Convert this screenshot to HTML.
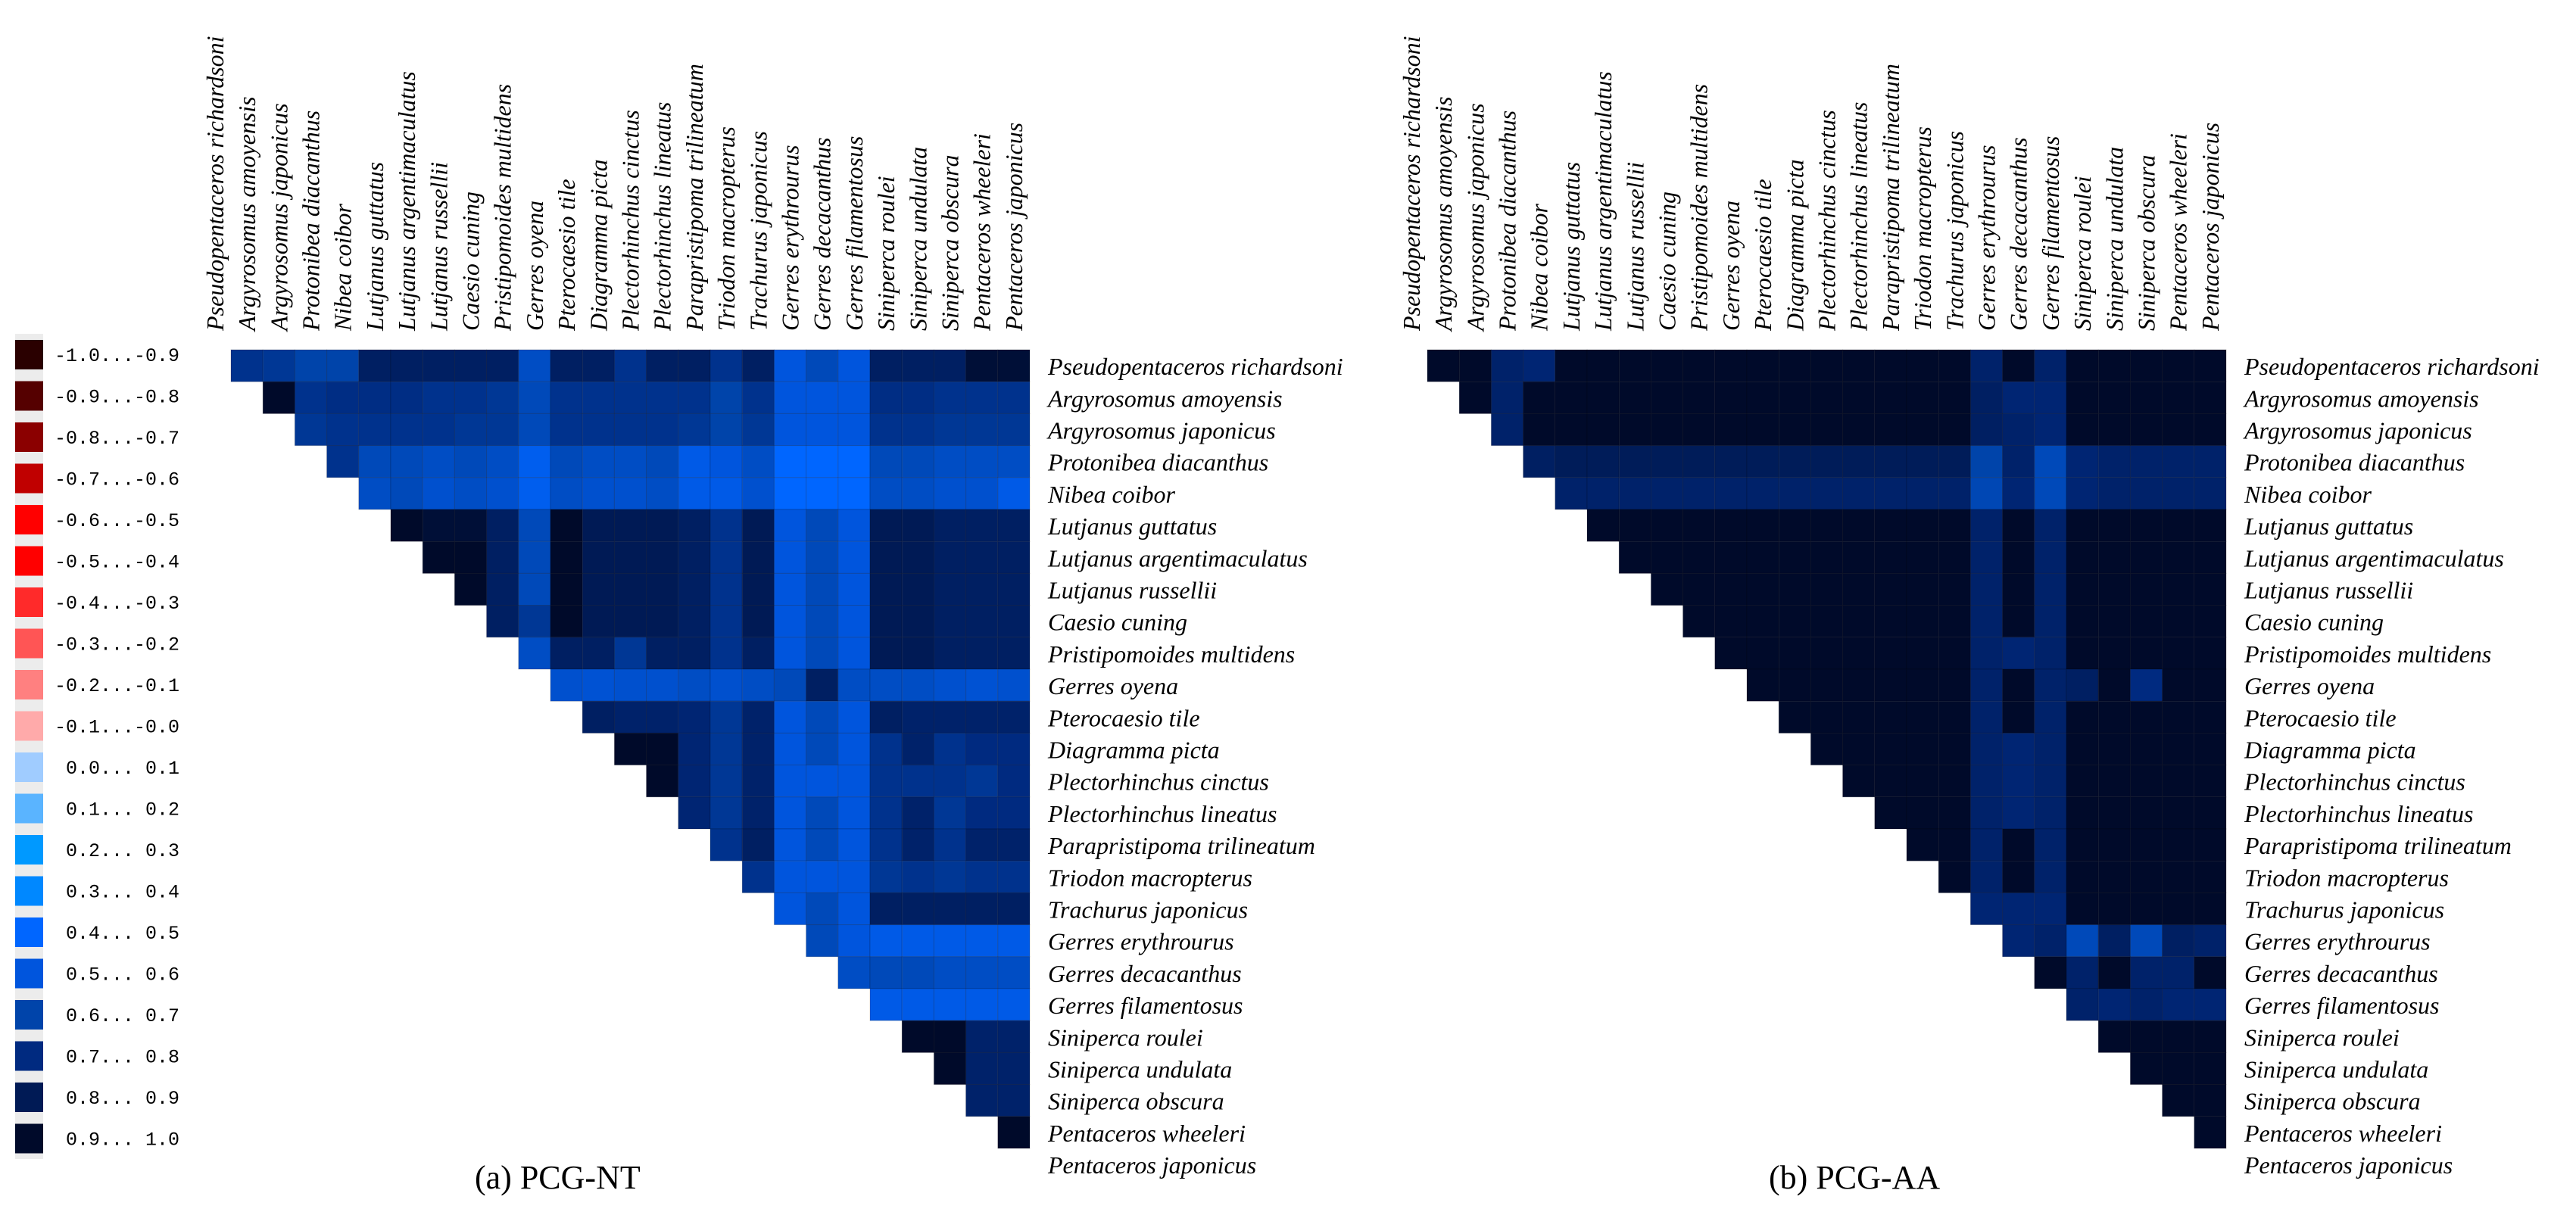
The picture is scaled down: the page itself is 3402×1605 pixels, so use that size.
<!DOCTYPE html>
<html><head><meta charset="utf-8"><style>
html,body{margin:0;padding:0;background:#fff;}
svg{display:block;}
</style></head><body>
<svg id="fig" xmlns="http://www.w3.org/2000/svg" width="3402" height="1605" viewBox="0 0 3402 1605"></svg>
<script>
const species = ["Pseudopentaceros richardsoni","Argyrosomus amoyensis","Argyrosomus japonicus","Protonibea diacanthus","Nibea coibor","Lutjanus guttatus","Lutjanus argentimaculatus","Lutjanus russellii","Caesio cuning","Pristipomoides multidens","Gerres oyena","Pterocaesio tile","Diagramma picta","Plectorhinchus cinctus","Plectorhinchus lineatus","Parapristipoma trilineatum","Triodon macropterus","Trachurus japonicus","Gerres erythrourus","Gerres decacanthus","Gerres filamentosus","Siniperca roulei","Siniperca undulata","Siniperca obscura","Pentaceros wheeleri","Pentaceros japonicus"];
const legendLabels = ["-1.0...-0.9","-0.9...-0.8","-0.8...-0.7","-0.7...-0.6","-0.6...-0.5","-0.5...-0.4","-0.4...-0.3","-0.3...-0.2","-0.2...-0.1","-0.1...-0.0"," 0.0... 0.1"," 0.1... 0.2"," 0.2... 0.3"," 0.3... 0.4"," 0.4... 0.5"," 0.5... 0.6"," 0.6... 0.7"," 0.7... 0.8"," 0.8... 0.9"," 0.9... 1.0"];
const legendColors = ["#2a0000","#550000","#8b0000","#c00000","#ff0000","#ff0000","#ff2a2a","#ff5555","#ff8080","#ffaaaa","#a0ccff","#5ab4ff","#0099ff","#0088ff","#0066ff","#0055dd","#0044aa","#002a80","#001a55","#000a2a"];
// upper-triangle rows: row i holds values for columns i+1..25
const ntValues = [
[0.72,0.7,0.65,0.65,0.82,0.82,0.82,0.82,0.82,0.6,0.82,0.82,0.72,0.82,0.82,0.72,0.82,0.55,0.62,0.55,0.82,0.82,0.82,0.92,0.92],
[0.95,0.72,0.74,0.74,0.74,0.72,0.72,0.7,0.62,0.72,0.72,0.72,0.72,0.72,0.65,0.72,0.55,0.55,0.55,0.74,0.74,0.72,0.72,0.72],
[0.7,0.72,0.72,0.72,0.72,0.7,0.7,0.62,0.72,0.72,0.72,0.72,0.7,0.65,0.7,0.55,0.55,0.55,0.72,0.72,0.7,0.7,0.7],
[0.72,0.62,0.62,0.6,0.62,0.6,0.5,0.62,0.6,0.6,0.62,0.52,0.55,0.6,0.45,0.43,0.43,0.62,0.62,0.6,0.6,0.6],
[0.6,0.62,0.58,0.6,0.58,0.5,0.6,0.58,0.58,0.6,0.52,0.52,0.58,0.43,0.42,0.43,0.6,0.6,0.58,0.58,0.52],
[0.95,0.92,0.92,0.82,0.62,0.95,0.85,0.85,0.85,0.82,0.72,0.85,0.55,0.62,0.55,0.85,0.85,0.82,0.82,0.82],
[0.95,0.95,0.82,0.62,0.95,0.85,0.85,0.85,0.82,0.72,0.85,0.55,0.62,0.55,0.85,0.85,0.82,0.82,0.82],
[0.95,0.82,0.62,0.95,0.85,0.85,0.85,0.82,0.72,0.85,0.55,0.62,0.55,0.85,0.85,0.82,0.82,0.82],
[0.82,0.7,0.96,0.85,0.85,0.85,0.82,0.72,0.85,0.55,0.62,0.55,0.85,0.85,0.82,0.82,0.82],
[0.6,0.82,0.82,0.7,0.82,0.82,0.72,0.82,0.55,0.62,0.55,0.85,0.85,0.82,0.82,0.82],
[0.58,0.57,0.58,0.58,0.6,0.58,0.6,0.62,0.82,0.6,0.6,0.6,0.58,0.57,0.58],
[0.82,0.8,0.8,0.78,0.7,0.8,0.55,0.62,0.55,0.82,0.8,0.8,0.8,0.8],
[0.95,0.95,0.78,0.7,0.8,0.55,0.62,0.55,0.72,0.8,0.72,0.75,0.75],
[0.95,0.78,0.7,0.8,0.55,0.55,0.55,0.72,0.72,0.72,0.7,0.75],
[0.78,0.7,0.8,0.55,0.62,0.55,0.72,0.8,0.7,0.75,0.75],
[0.72,0.82,0.55,0.62,0.55,0.72,0.8,0.72,0.8,0.8],
[0.72,0.55,0.55,0.55,0.7,0.72,0.7,0.72,0.72],
[0.55,0.62,0.55,0.82,0.82,0.82,0.82,0.82],
[0.62,0.55,0.52,0.52,0.52,0.52,0.52],
[0.6,0.62,0.62,0.6,0.6,0.6],
[0.52,0.52,0.52,0.52,0.52],
[0.95,0.95,0.8,0.8],
[0.95,0.8,0.8],
[0.8,0.8],
[0.95]
];
const aaValues = [
[0.95,0.95,0.8,0.78,0.95,0.95,0.95,0.95,0.95,0.95,0.95,0.95,0.95,0.95,0.95,0.95,0.95,0.8,0.95,0.8,0.95,0.95,0.95,0.95,0.95],
[0.95,0.8,0.95,0.95,0.95,0.95,0.95,0.95,0.95,0.95,0.95,0.95,0.95,0.95,0.95,0.95,0.82,0.78,0.78,0.95,0.95,0.95,0.95,0.95],
[0.8,0.95,0.95,0.95,0.95,0.95,0.95,0.95,0.95,0.95,0.95,0.95,0.95,0.95,0.95,0.82,0.8,0.78,0.95,0.95,0.95,0.95,0.95],
[0.82,0.84,0.84,0.84,0.84,0.84,0.84,0.84,0.84,0.84,0.84,0.84,0.84,0.84,0.65,0.8,0.62,0.78,0.8,0.8,0.8,0.8],
[0.8,0.8,0.8,0.8,0.8,0.8,0.8,0.8,0.8,0.8,0.8,0.8,0.8,0.63,0.78,0.62,0.78,0.8,0.8,0.8,0.8],
[0.95,0.95,0.95,0.95,0.95,0.95,0.95,0.95,0.95,0.95,0.95,0.95,0.8,0.95,0.8,0.95,0.95,0.95,0.95,0.95],
[0.95,0.95,0.95,0.95,0.95,0.95,0.95,0.95,0.95,0.95,0.95,0.8,0.95,0.8,0.95,0.95,0.95,0.95,0.95],
[0.95,0.95,0.95,0.95,0.95,0.95,0.95,0.95,0.95,0.95,0.8,0.95,0.8,0.95,0.95,0.95,0.95,0.95],
[0.95,0.95,0.95,0.95,0.95,0.95,0.95,0.95,0.95,0.8,0.95,0.8,0.95,0.95,0.95,0.95,0.95],
[0.95,0.95,0.95,0.95,0.95,0.95,0.95,0.95,0.8,0.78,0.8,0.95,0.95,0.95,0.95,0.95],
[0.95,0.95,0.95,0.95,0.95,0.95,0.95,0.8,0.95,0.8,0.82,0.95,0.75,0.95,0.95],
[0.95,0.95,0.95,0.95,0.95,0.95,0.8,0.95,0.8,0.95,0.95,0.95,0.95,0.95],
[0.95,0.95,0.95,0.95,0.95,0.8,0.78,0.8,0.95,0.95,0.95,0.95,0.95],
[0.95,0.95,0.95,0.95,0.8,0.78,0.8,0.95,0.95,0.95,0.95,0.95],
[0.95,0.95,0.95,0.8,0.78,0.8,0.95,0.95,0.95,0.95,0.95],
[0.95,0.95,0.8,0.95,0.8,0.95,0.95,0.95,0.95,0.95],
[0.95,0.8,0.95,0.8,0.95,0.95,0.95,0.95,0.95],
[0.78,0.78,0.78,0.95,0.95,0.95,0.95,0.95],
[0.78,0.8,0.62,0.82,0.62,0.82,0.8],
[0.95,0.8,0.95,0.8,0.8,0.95],
[0.8,0.78,0.8,0.78,0.78],
[0.95,0.95,0.95,0.95],
[0.95,0.95,0.95],
[0.95,0.95],
[0.95]
];
const captions = ["(a) PCG-NT","(b) PCG-AA"];

const NS = "http://www.w3.org/2000/svg";
const svg = document.getElementById('fig');
const CELL = 42.2, Y0 = 462;
const stops = [[0.45,[0,102,255]],[0.55,[0,85,221]],[0.65,[0,68,170]],[0.75,[0,42,128]],[0.85,[0,26,85]],[0.95,[0,10,42]]];
function colorFor(v){
  if (v <= stops[0][0]) return 'rgb(' + stops[0][1].join(',') + ')';
  for (let i = 1; i < stops.length; i++) {
    if (v <= stops[i][0]) {
      const t = (v - stops[i-1][0]) / (stops[i][0] - stops[i-1][0]);
      const a = stops[i-1][1], b = stops[i][1];
      return 'rgb(' + a.map((c,k)=>Math.round(c + (b[k]-c)*t)).join(',') + ')';
    }
  }
  return 'rgb(' + stops[stops.length-1][1].join(',') + ')';
}
function mk(tag, attrs, parent){
  const e = document.createElementNS(NS, tag);
  for (const k in attrs) e.setAttribute(k, attrs[k]);
  (parent || svg).appendChild(e);
  return e;
}
const xScale = (x0, col) => x0 + (col - 1) * CELL;
const yScale = row => Y0 + row * CELL;

// legend
const lg = mk('g', {});


const lbg = mk('rect', {x:20, y:441, width:37, height:legendColors.length*54.5, fill:'#ececec'}, lg);


legendColors.forEach((c, i) => {
  const r = mk('rect', {x:20, y:449 + i*54.5, width:37, height:39, fill:c}, lg);
  
  
  const t = mk('text', {x:72, y:477 + i*54.5, 'font-family':'"Liberation Mono", monospace', 'font-size':25, fill:'#000', 'xml:space':'preserve'}, lg);
  
  
  t.style.whiteSpace = 'pre';
  t.textContent = legendLabels[i];
});

function drawPanel(x0, values, caption, capX, name){
  const g = mk('g', {});
  
  
  values.forEach((row, i) => {
    row.forEach((v, k) => {
      const col = i + 1 + k;
      const r = mk('rect', {x:xScale(x0, col), y:yScale(i), width:CELL, height:CELL, fill:colorFor(v), stroke:'rgba(0,0,0,0.18)', 'stroke-width':1}, g);
      
      
    });
  });
  species.forEach((s, j) => {
    const cx = x0 + (j - 0.5) * CELL + 11;
    const t = mk('text', {x:0, y:0, transform:'translate(' + cx + ',437) rotate(-90)', 'font-family':'"Liberation Serif", serif', 'font-style':'italic', 'font-size':32, 'text-anchor':'start', fill:'#000'}, g);
    
    
    t.textContent = s;
    const rl = mk('text', {x:x0 + 25*CELL + 24, y:Y0 + (j + 0.5)*CELL + 12, 'font-family':'"Liberation Serif", serif', 'font-style':'italic', 'font-size':32, fill:'#000'}, g);
    
    
    rl.textContent = s;
  });
  const c = mk('text', {x:capX, y:1570, 'font-family':'"Liberation Serif", serif', 'font-size':44, fill:'#000'}, g);
  
  
  c.textContent = caption;
}
drawPanel(305, ntValues, captions[0], 627, 'heatmap-pcg-nt');
drawPanel(1885, aaValues, captions[1], 2336, 'heatmap-pcg-aa');
</script>
</body></html>
